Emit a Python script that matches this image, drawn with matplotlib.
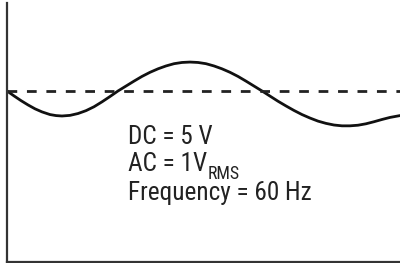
import matplotlib
matplotlib.use("Agg")
import matplotlib.pyplot as plt
from matplotlib import font_manager

# Data: time (arbitrary units) and voltage (V)
t = [0, 7, 14, 21, 28, 35, 43, 49, 55, 63, 71, 79, 87, 95, 103,
     111, 119, 127, 135, 143, 151, 159, 167, 175, 183, 191, 199, 207, 215,
     223, 231, 239, 247, 255,
     263, 271, 279, 287, 295, 303, 311, 319, 327, 335, 343, 351, 359, 367,
     375, 383, 393]
volts = [5.00, 4.76, 4.53, 4.32, 4.13, 3.98, 3.85, 3.80, 3.78, 3.81, 3.90,
         4.04, 4.23, 4.47, 4.73,
         5.00, 5.24, 5.48, 5.71, 5.91, 6.08, 6.22, 6.33, 6.39, 6.41, 6.39,
         6.33, 6.22, 6.08, 5.91, 5.71, 5.48, 5.24, 5.00,
         4.75, 4.50, 4.27, 4.05, 3.85, 3.68, 3.53, 3.42, 3.34, 3.30, 3.30,
         3.33, 3.40, 3.50, 3.61, 3.71, 3.80]
dc_level = 5.0
labels = ["DC = 5 V", "AC = 1V", "RMS", "Frequency = 60 Hz"]

installed = {f.name for f in font_manager.fontManager.ttflist}
condensed = [n for n in ["Roboto Condensed", "Liberation Sans Narrow",
                         "Open Sans Condensed", "DejaVu Sans Condensed"]
             if n in installed]
if condensed:
    FONT = [condensed[0], "DejaVu Sans"]
    fs = 18.2
else:
    FONT = ["Liberation Sans", "DejaVu Sans"]
    fs = 16

fig = plt.figure(figsize=(4.0, 2.63), dpi=100)
ax = fig.add_axes([7 / 400, 1 / 263, 393 / 400, 259 / 263])
ax.plot(t, volts, color="#111111", lw=2.0, solid_capstyle="round",
        solid_joinstyle="round")
ax.axhline(dc_level, color="#222222", lw=2.0, linestyle=(0, (3.5, 3.5)))
ax.set_xlim(0, 393)
ax.set_ylim(-3.34, 9.29)
for s in ["top", "right"]:
    ax.spines[s].set_visible(False)
for s in ["left", "bottom"]:
    ax.spines[s].set_color("#333333")
    ax.spines[s].set_linewidth(1.6)
ax.set_xticks([])
ax.set_yticks([])

tx = (128 - 7) / 393
def ypos(py):
    return (262 - py) / 259

kw = dict(transform=ax.transAxes, fontsize=fs, family=FONT, color="#222222",
          va="baseline", ha="left")
ax.text(tx, ypos(144), labels[0], **kw)
t1 = ax.text(tx, ypos(171), labels[1], **kw)
ax.annotate(labels[2], xy=(1, 0), xycoords=t1, xytext=(0.3, -2),
            textcoords="offset points", fontsize=fs * 0.7, family=FONT,
            color="#222222", va="baseline", ha="left")
ax.text(tx, ypos(200), labels[3], **kw)

fig.savefig("out.png", dpi=100)
